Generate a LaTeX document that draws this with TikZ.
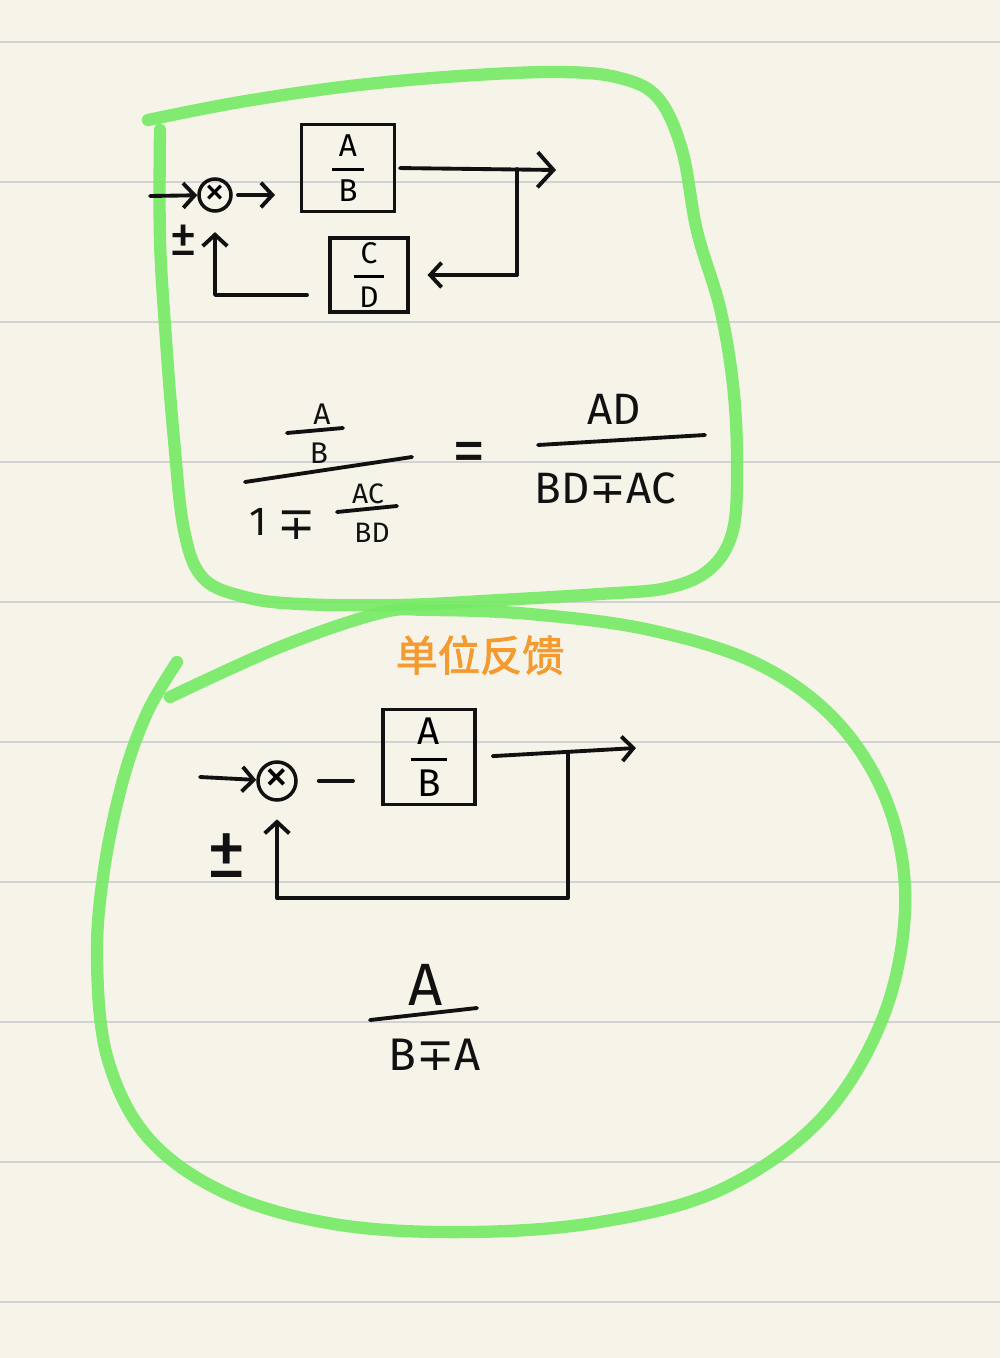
\documentclass[tikz,border=0pt]{standalone}
\usepackage{amsmath}
\usepackage{fontspec}
\setmainfont{Fira Sans}
\newfontfamily\symfont{DejaVu Sans}
\newfontfamily\cjkfont{Noto Sans CJK SC}[AutoFakeBold=2]
\usetikzlibrary{arrows.meta}

\definecolor{paper}{HTML}{F6F4E9}
\definecolor{ruleline}{HTML}{D2D2D2}
\definecolor{marker}{HTML}{74EA64}
\definecolor{ink}{HTML}{111111}
\definecolor{note}{HTML}{F39B30}

\newcommand{\hfr}[2]{$\genfrac{}{}{1.6pt}{0}{\mbox{\hspace{4pt}#1\hspace{4pt}}}{\mbox{#2}}$}
\newcommand{\mpm}{{\symfont ∓}}

\tikzset{
  wire/.style={ink, line width=2.2pt, line cap=round, line join=round},
  arr/.style={wire, -{Straight Barb[length=6.5pt,width=14pt]}},
  bigarr/.style={wire, -{Straight Barb[length=9pt,width=20pt]}},
  blockbox/.style={draw=ink, line width=2.2pt, inner sep=0pt},
  sumnode/.style={circle, draw=ink, line width=2pt, inner sep=0pt},
  hand/.style={ink, inner sep=0pt},
  loop/.style={marker, line width=7pt, line cap=round, line join=round, opacity=0.9},
}

\begin{document}
\begin{tikzpicture}[x=0.02cm, y=-0.02cm]
  % paper
  \fill[paper] (0,0) rectangle (1000,1358);
  \useasboundingbox (0,0) rectangle (1000,1358);
  \foreach \y in {42,182,...,1302} \draw[ruleline, line width=1.1pt] (0,\y) -- (1000,\y);

  % marker loops
  \draw[loop] plot[smooth, tension=0.6] coordinates {(148,120) (240,102) (350,86) (460,76) (560,72) (620,78) (658,98) (682,150) (697,231) (720,308) (733,385) (737,461) (733,530) (710,569) (667,588) (600,594) (500,600) (400,605) (300,604) (245,597) (203,578) (184,530) (174,440) (166,340) (160,240) (160,130)};
  \draw[loop] plot[smooth, tension=0.6] coordinates {(177,662) (147,713) (123,780) (104,870) (97,960) (108,1060) (150,1140) (230,1195) (340,1225) (470,1232) (600,1222) (720,1190) (820,1120) (882,1020) (905,910) (890,810) (840,725) (760,665) (650,630) (530,614) (430,610) (380,613) (280,647) (170,697)};

  % upper loop: A/B with C/D feedback
  \node[sumnode, minimum size=0.64cm, font=\fontsize{24}{24}\selectfont] (sum1) at (215,195) {×};
  \node[blockbox, minimum width=1.86cm, minimum height=1.74cm, font=\fontsize{18}{21}\selectfont] (g1) at (348,168) {\hfr{A}{B}};
  \node[blockbox, minimum width=1.56cm, minimum height=1.48cm, font=\fontsize{17}{20}\selectfont] (h1) at (369,275) {\hfr{C}{D}};
  \node[hand, font=\fontsize{32}{32}\selectfont] (pm1) at (184,240) {±};
  \coordinate (in1) at (150,196);
  \coordinate (out1) at (556,170);
  \coordinate (br1) at (517,169);

  \draw[arr] (in1) -- (sum1);
  \draw[arr, shorten <=3pt, shorten >=14pt] (sum1.east) -- (sum1.east -| g1.west);
  \draw[bigarr, shorten <=2pt] (g1.east) -- (out1);
  \draw[arr, shorten >=10pt] (br1) |- (h1.east);
  \draw[arr, shorten <=12pt, shorten >=11pt] (h1.206) -| (sum1.south);

  % upper formula
  \node[hand, font=\fontsize{17}{20}\selectfont] (e1A) at (322,414) {A};
  \node[hand, font=\fontsize{17}{20}\selectfont] (e1B) at (319,453) {B};
  \draw[wire] (287,433) -- (343,428);
  \draw[wire] (245,482) -- (412,457);
  \node[hand, font=\fontsize{23}{25}\selectfont] (e1one) at (258,522) {1};
  \node[hand, font=\fontsize{26}{28}\selectfont] (e1mp) at (297,525) {\mpm};
  \node[hand, font=\fontsize{16}{18}\selectfont] (e1AC) at (368,494) {AC};
  \draw[wire] (337,512) -- (397,506);
  \node[hand, font=\fontsize{16}{18}\selectfont] (e1BD) at (372,533) {BD};
  \node[hand, font=\fontsize{38}{40}\selectfont] (e1eq) at (469,458) {=};
  \node[hand, font=\fontsize{25}{27}\selectfont] (e1AD) at (614,409) {AD};
  \draw[wire] (538,445) -- (705,435);
  \node[hand, font=\fontsize{25}{27}\selectfont] (e1den) at (605,488) {BD\mpm AC};

  % lower loop: unity feedback
  \node[note, inner sep=0pt, font=\fontsize{24}{26}\selectfont] (title2) at (480,655) {\cjkfont\bfseries 单位反馈};
  \node[sumnode, minimum size=0.76cm, font=\fontsize{28}{28}\selectfont] (sum2) at (277,781) {×};
  \node[blockbox, minimum width=1.84cm, minimum height=1.9cm, font=\fontsize{22}{25}\selectfont] (g2) at (429,757) {\hfr{A}{B}};
  \node[hand, font=\fontsize{46}{46}\selectfont] (pm2) at (227,856) {±};
  \coordinate (in2) at (200,777);
  \coordinate (out2) at (636,748);
  \coordinate (br2) at (568,752);
  \coordinate (fb2) at (568,898);

  \draw[arr] (in2) -- (sum2);
  \draw[wire, shorten <=12pt, shorten >=16pt] (sum2.east) -- (sum2.east -| g2.west);
  \draw[arr, shorten <=9pt] (g2.east) -- (out2);
  \draw[arr, shorten >=10pt] (br2) -- (fb2) -| (sum2.south);

  % lower formula
  \node[hand, font=\fontsize{34}{36}\selectfont] (e2A) at (426,985) {A};
  \draw[wire] (370,1020) -- (477,1008);
  \node[hand, font=\fontsize{26}{28}\selectfont] (e2den) at (435,1055) {B\mpm A};
\end{tikzpicture}
\end{document}
